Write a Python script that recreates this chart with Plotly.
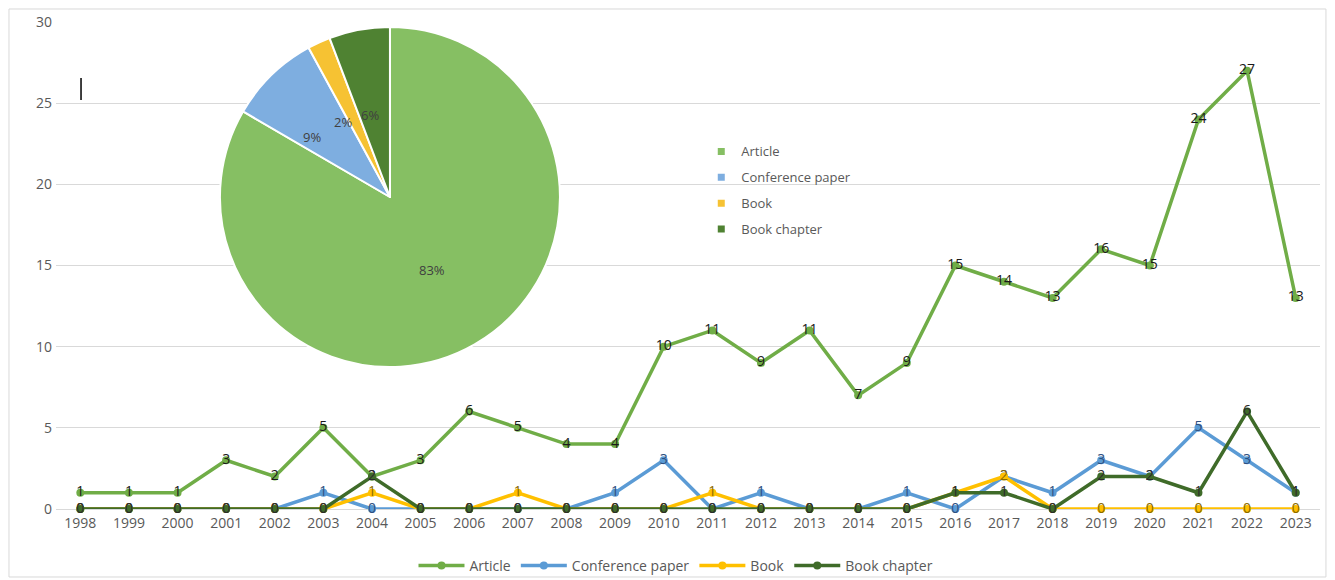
import math
import plotly.graph_objects as go

years = [str(y) for y in range(1998, 2024)]
article = [1, 1, 1, 3, 2, 5, 2, 3, 6, 5, 4, 4, 10, 11, 9, 11, 7, 9, 15, 14, 13, 16, 15, 24, 27, 13]
conference = [0, 0, 0, 0, 0, 1, 0, 0, 0, 0, 0, 1, 3, 0, 1, 0, 0, 1, 0, 2, 1, 3, 2, 5, 3, 1]
book = [0, 0, 0, 0, 0, 0, 1, 0, 0, 1, 0, 0, 0, 1, 0, 0, 0, 0, 1, 2, 0, 0, 0, 0, 0, 0]
chapter = [0, 0, 0, 0, 0, 0, 2, 0, 0, 0, 0, 0, 0, 0, 0, 0, 0, 0, 1, 1, 0, 2, 2, 1, 6, 1]

pie_labels = ["Article", "Conference paper", "Book", "Book chapter"]
pie_values = [sum(article), sum(conference), sum(book), sum(chapter)]

series = [
    ("Article", article, "#70ad47", "#1a1a1a"),
    ("Conference paper", conference, "#5b9bd5", "#2f4f7f"),
    ("Book", book, "#ffc000", "#8a6a00"),
    ("Book chapter", chapter, "#3f6b29", "#2b2b2b"),
]
pie_colors = ["#86bf63", "#7eaee0", "#f6c233", "#4f8232"]

FONT = "Open Sans"

# the page body has an 8px margin, so the figure is sized to fit the window
W, H = 1327, 572
ML, MR, MT, MB = 48, 15, 14, 71
PW, PH = W - ML - MR, H - MT - MB

fig = go.Figure()
for name, vals, col, tcol in series:
    fig.add_trace(go.Scatter(
        x=years, y=vals, name=name, mode="lines+markers+text",
        line=dict(color=col, width=3.5),
        marker=dict(color=col, size=8),
        text=[str(v) for v in vals], textposition="middle center",
        textfont=dict(family=FONT, size=14, color=tcol),
        legend="legend", cliponaxis=False,
    ))

pie_dom_x = [0.1297, 0.3987]
pie_dom_y = [0.2916, 0.9897]
fig.add_trace(go.Pie(
    labels=pie_labels, values=pie_values, sort=False, direction="clockwise",
    rotation=0, marker=dict(colors=pie_colors, line=dict(color="white", width=2)),
    textinfo="none", domain=dict(x=pie_dom_x, y=pie_dom_y),
    showlegend=False, hoverinfo="label+percent",
))

# pie legend entries (legend2)
for lab, col in zip(pie_labels, pie_colors):
    fig.add_trace(go.Scatter(
        x=[None], y=[None], mode="markers", name=lab,
        marker=dict(symbol="square", size=7, color=col),
        legend="legend2", legendgroup=lab,
    ))

# pie percentage labels, positioned from the data (mid-angle of each slice)
total = sum(pie_values)
cx = (pie_dom_x[0] + pie_dom_x[1]) / 2
cy = (pie_dom_y[0] + pie_dom_y[1]) / 2
annotations = []
cum = 0
for i, v in enumerate(pie_values):
    frac = v / total
    mid = (cum + frac / 2) * 2 * math.pi
    cum += frac
    rx, ry = (84, 84) if i == 0 else (112, 83)
    dx = math.sin(mid) * rx
    dy = math.cos(mid) * ry
    annotations.append(dict(
        x=cx + dx / PW, y=cy + dy / PH, xref="paper", yref="paper",
        xanchor="center", yanchor="middle",
        text=f"{round(frac * 100)}%", showarrow=False,
        font=dict(family=FONT, size=13, color="#404040"),
    ))

fig.update_layout(
    width=W, height=H,
    margin=dict(l=ML, r=MR, t=MT, b=MB, autoexpand=False),
    paper_bgcolor="white", plot_bgcolor="white",
    font=dict(family=FONT, color="#595959", size=14),
    xaxis=dict(type="category", range=[-0.5, 25.5], showgrid=False, ticks="",
               showline=False, tickfont=dict(size=14, color="#595959"),
               ticklabelstandoff=4),
    yaxis=dict(range=[0, 30], dtick=5, showgrid=True, gridcolor="#d9d9d9",
               zeroline=True, zerolinecolor="#d9d9d9", zerolinewidth=1,
               ticks="", tickfont=dict(size=14, color="#595959"), ticklabelstandoff=3),
    legend=dict(orientation="h", x=0.4905, xanchor="center", y=-0.117, yanchor="middle",
                font=dict(size=14, color="#595959"), bgcolor="rgba(0,0,0,0)",
                itemwidth=46),
    legend2=dict(x=0.5105, y=0.765, xanchor="left", yanchor="top",
                 font=dict(size=13, color="#595959"), bgcolor="rgba(0,0,0,0)",
                 itemwidth=30, tracegroupgap=6),
    showlegend=True,
    annotations=annotations,
    shapes=[
        dict(type="rect", xref="paper", yref="paper", x0=-0.0372, x1=1.0047,
             y0=-0.1396, y1=1.0267, line=dict(color="#d9d9d9", width=1), layer="below"),
        dict(type="line", xref="paper", yref="paper", x0=0.0198, x1=0.0198,
             y0=0.840, y1=0.885, line=dict(color="black", width=1.5)),
    ],
)

fig.write_html("out.html")
